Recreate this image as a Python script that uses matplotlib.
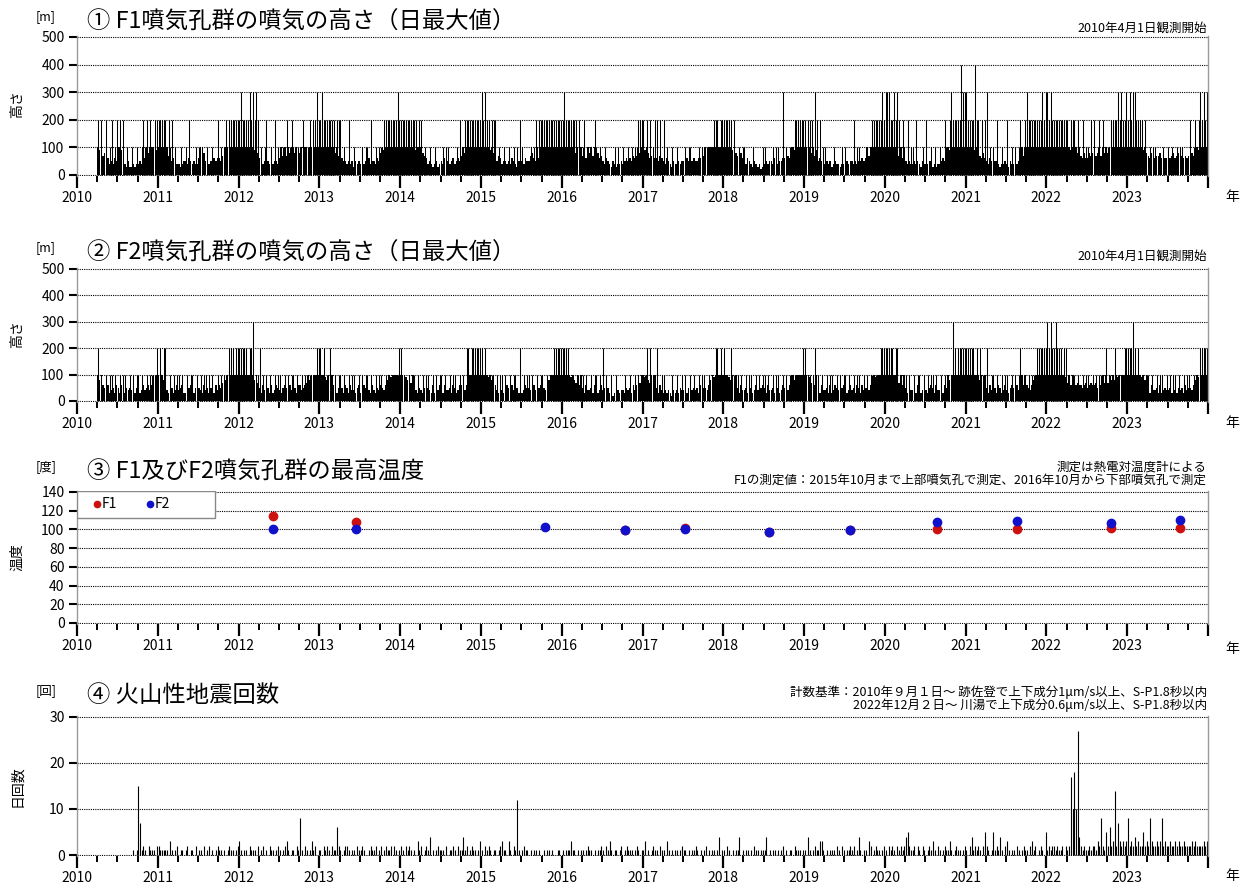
import numpy as np
import matplotlib
matplotlib.use('Agg')
import matplotlib.pyplot as plt
from matplotlib.patches import Rectangle

plt.rcParams['font.family'] = ['Noto Sans CJK JP', 'DejaVu Sans']

YEARS = list(range(2010, 2024))
SLOTS = 48  # 4 slots per month (~weekly)

# ① F1 plume height, read per ~week.  base: '-' none, '0'-'9' = 0-90 m, 'X' = 100 m
f1_base = [
    "---- ---- ---- X9X7 8X64 5465 XX9X 4353 3434 4546 6X8X XXX9",
    "XXXX 9X79 5654 4345 5465 4544 6X58 5445 5656 6576 XX9X XXXX",
    "XXXX XXXX X9X8 6545 4545 4554 6X7X 7X8X X8X9 8X7X X9XX XXXX",
    "XXXX XXXX X8X7 5655 4545 3545 4545 5645 5465 8X9X XXXX XXXX",
    "XXXX XXXX X9XX X876 4543 4534 5464 5456 4565 7X8X XXXX XXXX",
    "XXXX X9X8 6576 4554 5465 4354 5465 5786 5X6X XXXX XXXX XXXX",
    "XXXX XXXX 8X9X 7X6X 8X7X 7867 5465 4354 3445 4565 6576 7X8X",
    "X9X8 6756 6576 5465 4354 4545 5465 4565 5664 7X8X XXXX XXXX",
    "XXXX X9X8 7686 5465 4354 3423 4545 5465 4556 6776 8X9X XXXX",
    "XXXX 8X79 5656 4545 3454 4344 4545 5454 5565 6X7X XXXX XXXX",
    "XXXX XXXX 7X6X 5454 4545 4354 4455 3434 4565 7X9X XXXX XXXX",
    "XXXX X9XX 7686 5465 4554 3445 4354 4545 5X7X XXXX XXXX XXXX",
    "XXXX XXXX XXXX 8X9X 7X8X 7686 6878 6786 7X8X 8X7X XXXX XXXX",
    "XXXX XXXX X9X8 7687 6778 6766 7678 6787 7676 7887 8X9X XXXX",
]
# peaks: '.' none, '1'-'4' = 100-400 m
f1_peak = [
    ".... .... .... 2.2. .2.1 2.12 12.2 .1.. 1..1 ..12 12.2 1.22",
    "2222 2.21 2.1. .1.. 1.2. ..1. 1.1. .1.. 1..2 .1.1 2.22 2222",
    "2322 2232 3232 .1.1 2..1 .2.1 1.1. 2.12 .1.1 1.2. .12. 2232",
    "2322 2222 2.22 2.1. .2.. 1... .1.1 1.2. .1.1 1.22 2222 2232",
    "2222 2222 2212 2.1. .1.. 1... .1.1 1... .1.2 1.22 2222 2222",
    "3232 2.22 2.1. .1.. 1..1 .1.2 1... .1.1 2.22 2222 2222 2222",
    "2322 2222 2.2. 12.1 .1.2 1.1. .1.. ...1 .1.. 1..1 .1.1 1222",
    "2.2. 2.12 2.2. 2.1. .1.. 1... .1.1 1... .1.1 1.1. 1.22 2.22",
    "2222 2.2. .1.1 1... .1.. ...1 1... .1.1 1..3 .1.1 1.22 2222",
    "2.22 2.32 .2.1 1... .1.. ..1. 1... .2.1 1... .1.1 2222 2232",
    "3332 2323 2.2. .2.1 1.2. ..1. 2..1 .1.. 1..2 1.23 2222 2433",
    "3222 2422 .2.2 3.1. 1.2. .1.. 2..1 .1.1 2.12 3222 2222 2323",
    "3232 2222 2222 2.22 2.2. .2.1 1.2. 2.12 .2.1 1.22 2232 3223",
    "2323 3222 2.2. .1.1 1... .1.. 1.1. .1.1 1... .2.1 2.23 2323",
]

# ② F2 plume height
f2_base = [
    "---- ---- ---- X8X6 5463 4536 5364 3545 4635 5346 4564 6X7X",
    "X9X8 6435 5346 4563 3456 6354 5436 4535 5364 6576 8X9X XXXX",
    "XXXX XXXX X8X7 5364 4536 3465 4356 5364 4536 6456 7X8X XXXX",
    "XXX9 8X7X 6435 4536 5364 4356 3465 5436 4354 6546 8X9X XXXX",
    "XXX9 8X7X 6435 4356 5436 3546 5364 4536 5346 6546 8XXX XXXX",
    "XXXX 9X8X 6435 4356 5364 4536 3465 5436 4356 6546 8XXX XXXX",
    "XXXX X9X8 7X6X 5364 4536 5346 4535 3423 2434 4354 5364 6X7X",
    "X9X8 7X6X 5364 3434 3243 4354 4535 3454 5364 5546 8X9X XXXX",
    "XXX9 8X7X 5364 4536 5346 4356 5364 4536 5346 5546 7X8X XXXX",
    "XXX9 7X6X 5364 4536 3465 4356 5346 4536 5364 5546 7X9X XXXX",
    "XXXX XXX9 7X6X 5364 4536 5346 4356 5364 4536 5X8X XXXX XXXX",
    "XXXX XXXX 8X7X 5364 4536 5346 4356 5364 5X6X 6546 8XXX XXXX",
    "XXXX XXXX XXX9 7X6X 5676 6567 5676 6756 6X7X 7X8X 8X9X XXXX",
    "XXXX XXXX 9X8X 5364 4536 3454 4535 4354 5364 5546 8X9X XXXX",
]
f2_peak = [
    ".... .... .... 2.1. .1.1 1.1. .1.1 1..1 .1.1 1.1. .1.1 1.12",
    ".2.2 2..1 .1.1 1.1. .1.1 1..1 .1.1 1.1. 1..1 .1.1 1.22 2.22",
    "2222 2.22 3..1 2.1. 1.1. .1.1 1..1 .1.1 1.1. .1.1 1.1. 1.22",
    "2.2. 1.2. .1.1 1.1. .1.1 1..1 .1.1 1.1. .1.1 1..1 .1.1 1.12",
    "2.1. .1.1 1.1. .1.1 1..1 .1.1 1.1. .1.1 1..1 .1.2 2.22 2222",
    "2.2. 1.1. .1.1 1.1. .1.1 1..2 .1.1 1.1. .1.1 1..1 .1.2 2222",
    "2222 1.1. .1.1 1.1. .1.1 1.1. 2.1. .1.. 1... .1.. 1..1 .1.1",
    ".12. 2.1. 2..1 1... .1.. 1..1 .1.. 1.1. .1.1 1..1 .1.2 2.2.",
    "2... 2.1. 1.1. .1.1 1..1 .1.1 1.1. .1.1 1..1 .1.1 1.1. 1.12",
    "2..1 .12. 1.1. .1.1 1..1 .1.1 1.1. .1.1 1..1 .1.1 1.1. 1222",
    "2222 2.22 .1.1 1.1. .1.1 1..1 .1.1 1.1. .1.1 .1.1 32.2 2222",
    "2222 2.2. 2.1. 2..1 1.1. .1.1 1..1 .1.1 2.1. .1.1 1.22 2222",
    "3232 2322 2.22 .1.1 1.1. .1.1 1..1 .1.1 1..2 .1.1 2.1. 1.22",
    "2223 2.2. .1.1 1.1. .1.1 1..1 .1.1 1.1. .1.1 1..1 .1.2 2222",
]

# ③ max temperature [deg C]
temp_f1_year = [2012.43, 2013.45, 2016.78, 2017.53, 2018.57, 2019.57, 2020.64, 2021.64, 2022.80, 2023.65]
temp_f1 = [114, 108, 99, 102, 97, 99, 100, 100, 102, 102]
temp_f2_year = [2012.43, 2013.45, 2015.79, 2016.78, 2017.53, 2018.57, 2019.57, 2020.64, 2021.64, 2022.80, 2023.65]
temp_f2 = [100, 100, 103, 99, 100, 97, 99, 108, 109, 107, 110]

# ④ volcanic earthquakes, max daily count per ~week ('-' none, 0-9, A=10 ... R=27)
quake_max = [
    "---- ---- ---- ---- ---- ---- ---- ---- 0101 F712 1021 1102",
    "2111 1103 1012 0110 1201 1020 1102 0120 1012 1101 0121 1012",
    "3101 1021 1102 0120 1021 1012 1012 3101 1021 8102 1013 1201",
    "1021 2102 1162 1012 2101 1021 1210 0121 1201 2012 1120 2101",
    "2102 1210 1031 2012 1401 0121 1102 0112 1021 1412 0121 1013",
    "1021 2101 1012 3110 3102 1C10 1211 0101 1010 0101 1010 0110",
    "1011 1311 0101 1012 1101 0112 1021 3101 1012 0121 1101 2101",
    "1301 0121 1021 1031 0101 1012 1101 0112 1010 1201 0110 1401",
    "1021 0101 1401 0110 1021 1011 1401 0110 1012 0101 1021 1101",
    "1041 0121 1331 0101 1102 1021 0112 1201 4101 1032 0121 1012",
    "1021 2102 1212 4521 1202 1021 0121 3102 1012 1131 0121 1012",
    "1024 1212 1025 2101 5121 4102 3101 1021 0121 1023 1201 2105",
    "1212 2121 1202 12HA IAR4 2121 1212 2132 8215 2623 E273 2323",
    "8232 4232 2523 2832 2323 8232 2322 3232 2322 2232 3222 2323",
]

W, H = 1241, 885


def slot_x():
    return np.array([y + (i + 0.5) / SLOTS for y in YEARS for i in range(SLOTS)])


def decode(rows, kind):
    s = ''.join(r.replace(' ', '') for r in rows)
    out = []
    for c in s:
        if c in '-.':
            out.append(np.nan)
        elif kind == 'base':
            out.append(100.0 if c == 'X' else int(c) * 10.0)
        elif kind == 'peak':
            out.append(int(c) * 100.0)
        else:
            out.append(float(c) if c.isdigit() else float(ord(c) - ord('A') + 10))
    return np.array(out)


PAD = 0.008


def make_axes(fig, p_top, p_zero):
    span = p_zero - p_top
    top_px = p_top - PAD * span
    bot_px = p_zero + PAD * span
    return fig.add_axes([77 / W, 1 - bot_px / H, 1131 / W, (bot_px - top_px) / H])


def setup(ax, ymax, ystep):
    ax.set_xlim(2010, 2024)
    ax.set_ylim(-PAD * ymax, ymax * (1 + PAD))
    ax.set_yticks(np.arange(0, ymax + 1, ystep))
    ax.set_xticks(np.arange(2010, 2025))
    ax.set_xticklabels([str(y) for y in YEARS] + [''])
    ax.set_xticks(np.arange(2010, 2024.01, 0.25), minor=True)
    ax.grid(axis='y', color='black', lw=0.8, linestyle=(0, (1, 1)))
    ax.set_axisbelow(True)
    for s in ('top', 'bottom'):
        ax.spines[s].set_visible(False)
    for s in ('left', 'right'):
        ax.spines[s].set_color('#999999')
        ax.spines[s].set_linewidth(1.0)
    ax.tick_params(axis='x', which='major', length=8.5, width=1.6, pad=2, labelsize=10)
    ax.tick_params(axis='x', which='minor', length=4, width=1.4)
    ax.tick_params(axis='y', length=5.5, width=1.5, pad=3.5, labelsize=10)


def labels(fig, unit, title, unit_y, ylab, ylab_y, year_y, notes=()):
    fig.text(36 / W, 1 - unit_y / H, unit, fontsize=9, va='center')
    fig.text(87 / W, 1 - (unit_y + 5) / H, title, fontsize=16.8, va='center')
    fig.text(17 / W, 1 - ylab_y / H, ylab, fontsize=10, rotation=90, ha='center', va='center')
    fig.text(1232 / W, 1 - year_y / H, '年', fontsize=10, ha='center', va='center')
    for txt, ny in notes:
        fig.text(1207 / W, 1 - ny / H, txt, fontsize=9, ha='right', va='center')


def plume_panel(ax, base_rows, peak_rows):
    x = slot_x()
    base = decode(base_rows, 'base')
    peak = decode(peak_rows, 'peak')
    m = ~np.isnan(base)
    ax.bar(x[m], base[m], width=0.85 / SLOTS, color='black', linewidth=0, align='center')
    m = ~np.isnan(peak)
    ax.vlines(x[m], 0, peak[m], colors='black', lw=0.75)
    setup(ax, 500, 100)


fig = plt.figure(figsize=(W / 100, H / 100), dpi=100)

# ① F1
ax1 = make_axes(fig, 37, 175)
plume_panel(ax1, f1_base, f1_peak)
labels(fig, '[m]', '① F1噴気孔群の噴気の高さ（日最大値）', 17, '高さ', 104, 197,
       [('2010年4月1日観測開始', 28)])

# ② F2
ax2 = make_axes(fig, 269, 401)
plume_panel(ax2, f2_base, f2_peak)
labels(fig, '[m]', '② F2噴気孔群の噴気の高さ（日最大値）', 248, '高さ', 334, 423,
       [('2010年4月1日観測開始', 256)])

# ③ temperature
ax3 = make_axes(fig, 492, 623)
ax3.plot(temp_f1_year, temp_f1, 'o', color='#cc1111', ms=6, zorder=3)
ax3.plot(temp_f2_year, temp_f2, 'o', color='#1111cc', ms=6, zorder=4)
setup(ax3, 140, 20)
ax3.add_patch(Rectangle((0, 0.80), 0.122, 0.20, transform=ax3.transAxes,
                        facecolor='white', edgecolor='#888888', lw=1, zorder=5))
for lx, col, name in [(0.0177, '#cc1111', 'F1'), (0.0645, '#1111cc', 'F2')]:
    ax3.plot([lx], [0.90], 'o', color=col, ms=4.5, transform=ax3.transAxes, zorder=6)
    ax3.text(lx + 0.004, 0.90, name, transform=ax3.transAxes, fontsize=10,
             va='center', ha='left', zorder=6)
labels(fig, '[度]', '③ F1及びF2噴気孔群の最高温度', 467, '温度', 557, 649,
       [('測定は熱電対温度計による', 467),
        ('F1の測定値：2015年10月まで上部噴気孔で測定、2016年10月から下部噴気孔で測定', 480)])

# ④ volcanic earthquakes
ax4 = make_axes(fig, 717, 855)
xq = slot_x()
q = decode(quake_max, 'quake')
mq = ~np.isnan(q) & (q > 0)
ax4.vlines(xq[mq], 0, q[mq], colors='black', lw=0.8)
setup(ax4, 30, 10)
labels(fig, '[回]', '④ 火山性地震回数', 691, '日回数', 786, 876,
       [('計数基準：2010年９月１日～ 跡佐登で上下成分1μm/s以上、S-P1.8秒以内', 692),
        ('2022年12月２日～ 川湯で上下成分0.6μm/s以上、S-P1.8秒以内', 705)])

fig.savefig('out.png', dpi=100)
